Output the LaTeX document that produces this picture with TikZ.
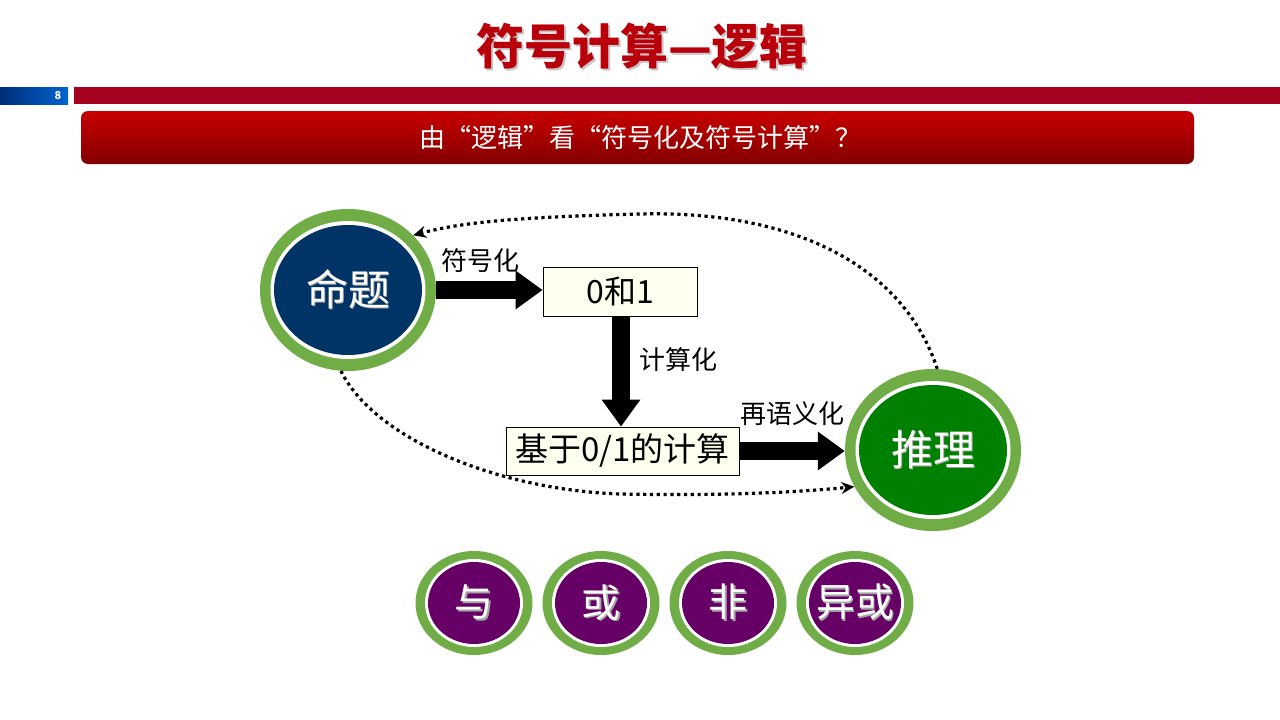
\documentclass[tikz,border=0pt]{standalone}
\usepackage{fontspec}
\setmainfont{Noto Sans CJK SC}
\usetikzlibrary{shapes.geometric,arrows.meta}
\definecolor{ringgreen}{RGB}{112,173,71}
\definecolor{navyfill}{RGB}{0,51,102}
\definecolor{greenfill}{RGB}{0,128,0}
\definecolor{purplefill}{RGB}{102,0,102}
\definecolor{boxfill}{RGB}{255,255,240}
\definecolor{titlered}{RGB}{185,0,10}
\definecolor{barred}{RGB}{165,0,32}
\definecolor{barblueA}{RGB}{0,45,120}
\definecolor{barblueB}{RGB}{0,100,210}
\definecolor{bannertop}{RGB}{200,0,0}
\definecolor{bannerbot}{RGB}{130,0,0}
\newcommand\shtext[1]{\makebox[0pt]{\makebox[0pt][l]{\raisebox{-1.5pt}{\hspace{1.5pt}\textcolor{black!35}{#1}}}#1}}
\newcommand\titleshadow[1]{\makebox[0pt][l]{\raisebox{-2pt}{\hspace{2pt}\textcolor{black!22}{#1}}}#1}
\begin{document}
\begin{tikzpicture}[x=1pt,y=-1pt,
  ringouter/.style={ellipse, fill=ringgreen, inner sep=0pt},
  ringwhite/.style={ellipse, fill=white, inner sep=0pt},
  bigcirc/.style={ellipse, inner sep=0pt, text=white, font=\fontsize{42}{46}\selectfont},
  smallcirc/.style={ellipse, inner sep=0pt, text=white, fill=purplefill, minimum width=92pt, minimum height=82pt, font=\fontsize{39}{42}\selectfont},
  boxnode/.style={draw=black, line width=0.8pt, fill=boxfill, inner sep=0pt},
  lbl/.style={font=\fontsize{26}{30}\selectfont, inner sep=0pt},
  bigarrow/.style={line width=18pt, -{Triangle[length=27pt,width=37pt]}},
  dotline/.style={line width=3.2pt, dash pattern=on 3.2pt off 3.6pt, -{Stealth[length=13pt,width=12pt]}}
]
\useasboundingbox (0,0) rectangle (1280,720);
\fill[white] (0,0) rectangle (1280,720);

% title
\node[text=titlered, font=\bfseries\fontsize{48}{52}\selectfont, inner sep=0pt] (title) at (642,47) {\titleshadow{符号计算—逻辑}};

% bars
\shade[left color=barblueA, right color=barblueB] (0,87) rectangle (68,104);
\node[text=white, font=\bfseries\fontsize{11}{12}\selectfont, inner sep=0pt] (pagenum) at (58,95.5) {8};
\fill[barred] (74,87) rectangle (1280,104);

% banner
\shade[top color=bannertop, bottom color=bannerbot, rounded corners=7pt] (81,111) rectangle (1194,164);
\node[text=white, font=\fontsize{26}{30}\selectfont, inner sep=0pt] (banner) at (640,138) {由“逻辑”看“符号化及符号计算”？};

% 命题
\node[ringouter, minimum width=176pt, minimum height=162pt] (mt) at (348,290) {};
\node[ringwhite, minimum width=155pt, minimum height=138pt] (mtw) at (mt) {};
\node[bigcirc, fill=navyfill, minimum width=148pt, minimum height=130pt] (mti) at (mt) {\shtext{命题}};

% 推理
\node[ringouter, minimum width=176pt, minimum height=162pt] (tl) at (933,450) {};
\node[ringwhite, minimum width=155pt, minimum height=138pt] (tlw) at (tl) {};
\node[bigcirc, fill=greenfill, minimum width=148pt, minimum height=130pt] (tli) at (tl) {\shtext{推理}};

% boxes
\node[boxnode, minimum width=154pt, minimum height=49pt, font=\fontsize{32}{36}\selectfont] (b1) at (620,291.5) {0和1};
\node[boxnode, minimum width=233pt, minimum height=48pt, font=\fontsize{33}{36}\selectfont] (b2) at (622.5,451) {基于0/1的计算};

% block arrows
\draw[bigarrow] (mt.east) -- (mt.east -| b1.west);
\draw[bigarrow] ([xshift=1pt]b1.south) -- ([xshift=1pt]b1.south |- b2.north);
\draw[bigarrow] (b2.east) -- (b2.east -| tl.west);

% labels
\node[lbl] (l1) at (480,261) {符号化};
\node[lbl] (l2) at (678,360) {计算化};
\node[lbl] (l3) at (792,414) {再语义化};

% dotted curves
\draw[dotline] (tl.87) .. controls (905,270) and (800,210) .. (640,214) .. controls (520,217) and (462,222) .. (mt.40);
\draw[dotline] (mt.265) .. controls (375,440) and (500,490) .. (620,494) .. controls (730,496) and (800,492) .. (tl.205);

% logic ops
\foreach \nm/\xx/\tx in {c1/474/与, c2/601/或, c3/728/非, c4/855/异或}{
  \node[ringouter, minimum width=117pt, minimum height=104pt] (\nm) at (\xx,603) {};
  \node[ringwhite, minimum width=98pt, minimum height=88pt] (\nm w) at (\nm) {};
  \node[smallcirc] (\nm i) at (\nm) {\shtext{\tx}};
}
\end{tikzpicture}
\end{document}
